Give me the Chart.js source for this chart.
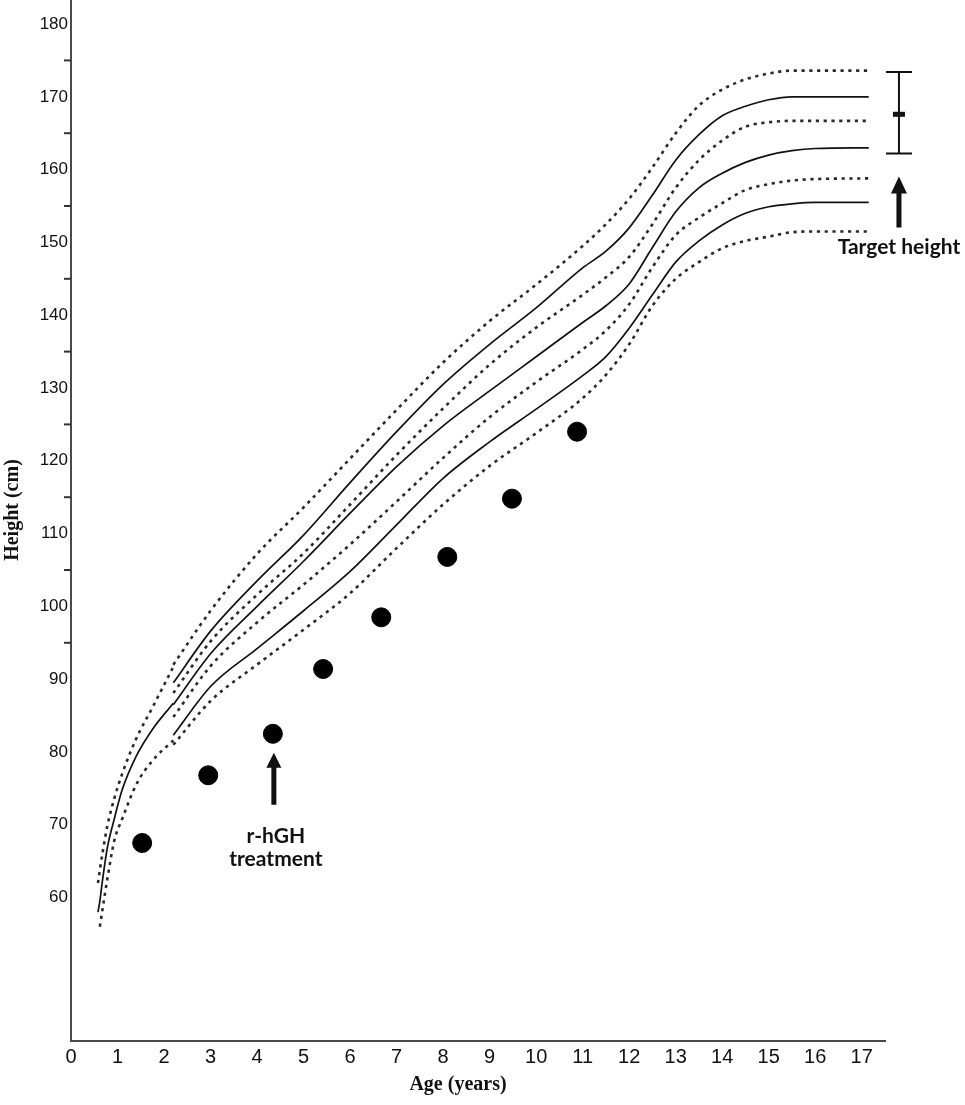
<!DOCTYPE html>
<html>
<head>
<meta charset="utf-8">
<script src="https://cdn.jsdelivr.net/npm/chart.js@4/dist/chart.umd.min.js"></script>
<style>
  html, body { margin: 0; padding: 0; background: #ffffff; }
  #wrap { width: 965px; height: 1105px; position: relative; }
</style>
</head>
<body>
<div id="wrap"><canvas id="c" width="965" height="1105"></canvas></div>
<script>
// ---------- data ----------
const infantAges = [0.58, 0.62, 0.68, 0.78, 0.93, 1.1, 1.4, 1.75, 2.2];
const infantHigh = [62.0, 63.8, 66.2, 69.8, 73.6, 77.0, 81.8, 86.1, 91.7];
const infantMid  = [58.0, 59.5, 62.5, 66.8, 70.8, 74.8, 79.4, 83.1, 86.7];
const infantLow  = [null, 56.0, 58.5, 62.5, 67.8, 70.8, 75.5, 78.8, 81.6];

const childAges = [2.2, 3, 4, 5, 6, 7, 8, 9, 10, 11, 11.5, 12, 12.5, 13, 13.5, 14, 14.5, 15, 15.5, 16, 17.15];
const p97 = [92.0, 99.4, 107.2, 113.6, 120.3, 127.0, 133.5, 139.2, 144.2, 149.5, 152.5, 156.0, 160.3, 165.0, 168.8, 171.0, 172.4, 173.2, 173.6, 173.6, 173.6];
const p90 = [89.5, 96.6, 103.5, 109.8, 117.0, 124.0, 130.5, 136.0, 141.0, 146.5, 148.8, 152.0, 156.5, 161.3, 164.8, 167.4, 168.7, 169.6, 170.0, 170.0, 170.0];
const p75 = [88.1, 95.2, 101.6, 107.3, 114.0, 120.8, 127.2, 133.2, 138.3, 142.8, 145.2, 148.0, 152.5, 157.5, 161.3, 164.0, 165.9, 166.5, 166.7, 166.7, 166.7];
const p50 = [86.5, 93.5, 100.0, 106.2, 112.8, 119.2, 124.8, 129.6, 134.3, 139.0, 141.3, 144.3, 149.3, 154.2, 157.5, 159.5, 161.0, 162.0, 162.6, 162.9, 163.0];
const p25 = [84.8, 91.8, 97.8, 103.0, 108.5, 114.4, 120.4, 126.0, 130.8, 135.3, 137.9, 141.5, 146.6, 151.0, 153.4, 155.4, 157.2, 158.0, 158.5, 158.7, 158.8];
const p10 = [82.3, 89.0, 94.2, 99.4, 104.8, 111.2, 117.6, 122.6, 127.1, 131.7, 134.3, 138.2, 142.8, 147.3, 150.2, 152.4, 154.0, 154.9, 155.3, 155.5, 155.5];
const p3  = [81.0, 87.0, 92.0, 96.8, 101.8, 108.0, 114.0, 119.3, 123.8, 128.6, 131.8, 136.0, 141.3, 145.0, 147.3, 149.2, 150.2, 150.8, 151.4, 151.5, 151.5];

const patientAges    = [1.53, 2.95, 4.34, 5.42, 6.67, 8.09, 9.48, 10.88];
const patientHeights = [67.5, 76.8, 82.5, 91.4, 98.5, 106.8, 114.8, 124.0];

const targetAge = 17.8;
const targetRange = [162.2, 173.4];
const targetMean = 167.6;

const xTickValues = [0,1,2,3,4,5,6,7,8,9,10,11,12,13,14,15,16,17];
const yTickValues = [60,70,80,90,100,110,120,130,140,150,160,170,180];
const yMinorTicks = [95,105,115,125,135,145,155,165,175];

const treatmentIndex = 2; // r-hGH start at third visit

// ---------- helpers ----------
const pts = (xs, ys) => xs.map((x, i) => ({ x: x, y: ys[i] })).filter(p => p.y !== null);
const solid = (xs, ys) => ({
  data: pts(xs, ys), borderColor: '#111', borderWidth: 1.7, pointRadius: 0,
  cubicInterpolationMode: 'monotone', fill: false
});
const dotted = (xs, ys) => ({
  data: pts(xs, ys), borderColor: '#2a2a2a', borderWidth: 2.6, borderDash: [3.2, 4.6],
  pointRadius: 0, cubicInterpolationMode: 'monotone', fill: false
});

const annot = {
  id: 'annot',
  afterDraw(chart) {
    const ctx = chart.ctx, xs = chart.scales.x, ys = chart.scales.y;
    ctx.save();
    // minor y tick marks
    ctx.strokeStyle = '#333'; ctx.lineWidth = 2;
    const ax = chart.chartArea.left;
    yMinorTicks.forEach(v => {
      const py = ys.getPixelForValue(v);
      ctx.beginPath(); ctx.moveTo(ax - 7, py); ctx.lineTo(ax, py); ctx.stroke();
    });
    // axis titles
    ctx.fillStyle = '#111';
    ctx.font = 'bold 20px "Liberation Serif", "Times New Roman", serif';
    ctx.textAlign = 'center'; ctx.textBaseline = 'middle';
    ctx.fillText('Age (years)', 458, 1085);
    ctx.save();
    ctx.translate(13, 510); ctx.rotate(-Math.PI / 2);
    ctx.fillText('Height (cm)', 0, 0);
    ctx.restore();

    // r-hGH arrow + text
    const tx = xs.getPixelForValue(patientAges[treatmentIndex]);
    const ty = ys.getPixelForValue(patientHeights[treatmentIndex]);
    drawArrow(ctx, tx + 1, ty + 19, ty + 71, 5, 15, 15);
    ctx.font = 'bold 21px Lato, "Open Sans", sans-serif';
    ctx.fillStyle = '#111';
    ctx.fillText('r-hGH', tx + 3, ty + 102);
    ctx.fillText('treatment', tx + 3, ty + 125);

    // target height error bar
    const ex = xs.getPixelForValue(targetAge);
    const eTop = ys.getPixelForValue(targetRange[1]);
    const eBot = ys.getPixelForValue(targetRange[0]);
    const eMid = ys.getPixelForValue(targetMean);
    ctx.strokeStyle = '#111'; ctx.lineWidth = 2;
    ctx.beginPath();
    ctx.moveTo(ex, eTop); ctx.lineTo(ex, eBot);
    ctx.moveTo(ex - 13, eTop); ctx.lineTo(ex + 13, eTop);
    ctx.moveTo(ex - 13, eBot); ctx.lineTo(ex + 13, eBot);
    ctx.stroke();
    ctx.fillStyle = '#111';
    ctx.fillRect(ex - 6, eMid - 2.5, 12, 5);
    // arrow under it
    drawArrow(ctx, ex, eBot + 23, eBot + 74, 5, 16, 17);
    ctx.font = 'bold 21px Lato, "Open Sans", sans-serif';
    ctx.fillText('Target height', ex, eBot + 94);
    ctx.restore();

    function drawArrow(c, x, tipY, baseY, shaftW, headW, headH) {
      c.fillStyle = '#111';
      c.beginPath();
      c.moveTo(x, tipY);
      c.lineTo(x + headW / 2, tipY + headH);
      c.lineTo(x + shaftW / 2, tipY + headH);
      c.lineTo(x + shaftW / 2, baseY);
      c.lineTo(x - shaftW / 2, baseY);
      c.lineTo(x - shaftW / 2, tipY + headH);
      c.lineTo(x - headW / 2, tipY + headH);
      c.closePath();
      c.fill();
    }
  }
};

new Chart(document.getElementById('c'), {
  type: 'line',
  data: {
    datasets: [
      dotted(infantAges, infantHigh),
      solid(infantAges, infantMid),
      dotted(infantAges, infantLow),
      dotted(childAges, p97),
      solid(childAges, p90),
      dotted(childAges, p75),
      solid(childAges, p50),
      dotted(childAges, p25),
      solid(childAges, p10),
      dotted(childAges, p3),
      {
        type: 'scatter',
        data: pts(patientAges, patientHeights),
        pointRadius: 9.5, pointBackgroundColor: '#000', pointBorderColor: '#000',
        showLine: false
      }
    ]
  },
  options: {
    responsive: false,
    animation: false,
    devicePixelRatio: 1,
    layout: { autoPadding: false, padding: { left: 0, right: 80, top: 0, bottom: 0 } },
    plugins: { legend: { display: false }, tooltip: { enabled: false } },
    scales: {
      x: {
        type: 'linear', min: 0, max: 17.5,
        grid: { display: false, drawTicks: false },
        border: { display: true, color: '#4a4a4a', width: 2 },
        afterBuildTicks: s => { s.ticks = xTickValues.map(v => ({ value: v })); },
        afterFit: s => { s.height = 64; s.paddingLeft = 0; s.paddingRight = 0; },
        ticks: {
          color: '#111', padding: 4,
          font: { family: '"Liberation Sans", Arial, sans-serif', size: 20 },
          maxRotation: 0, autoSkip: false
        }
      },
      y: {
        type: 'linear', min: 40.3, max: 183.3,
        grid: { display: false, drawTicks: false },
        border: { display: true, color: '#4a4a4a', width: 2 },
        afterBuildTicks: s => { s.ticks = yTickValues.map(v => ({ value: v })); },
        afterFit: s => { s.width = 71; s.paddingTop = 0; s.paddingBottom = 0; },
        ticks: {
          color: '#111', padding: 3,
          font: { family: '"Liberation Sans", Arial, sans-serif', size: 17 },
          autoSkip: false
        }
      }
    }
  },
  plugins: [annot]
});
</script>
</body>
</html>
